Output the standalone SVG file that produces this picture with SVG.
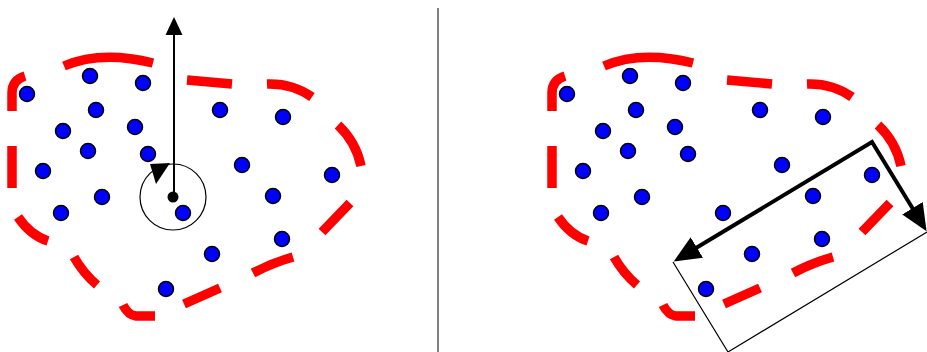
<svg xmlns="http://www.w3.org/2000/svg" width="927" height="352" viewBox="0 0 927 352">
<style>
.pt{fill:#0000ff;stroke:#000;stroke-width:1.5}
.hull{fill:none;stroke:#ff0000;stroke-width:9.5;stroke-linecap:butt}
.thin{fill:none;stroke:#000;stroke-width:1.2}
.thick{fill:none;stroke:#000;stroke-width:4;stroke-linejoin:miter}
.axis{fill:none;stroke:#000;stroke-width:2}
.sep{stroke:#555;stroke-width:1.5}
</style>
<defs>
<marker id="bigHead" markerUnits="userSpaceOnUse" markerWidth="30" markerHeight="26" viewBox="0 -13 30 26" refX="1" refY="0" orient="auto-start-reverse">
<path d="M0,-12 L27,0 L0,12 z" fill="#000"/>
</marker>
<marker id="smallHead" markerUnits="userSpaceOnUse" markerWidth="20" markerHeight="20" viewBox="0 -10 20 20" refX="1" refY="0" orient="auto">
<path d="M0,-8.5 L18,0 L0,8.5 z" fill="#000"/>
</marker>
</defs>

<g id="separator"><line class="sep" x1="438" y1="8" x2="438" y2="352"/></g>

<g id="left-panel">
<g id="left-hull">
<path class="hull" d="M12,111 L12,93 Q12,80 25,76 M12,146 L12,188 M64,66 Q101,50 153,63 M187,80 L232,84 M267,84 Q292,83 312,97 M338,125 Q356,142 361,166 M350,203 L322,232 M253,273 Q272,263 293,257 M184,304 L220,288 M123,305 Q128,315 136,316 L155,316 M74,257 Q83,273 97,285 M18,217 Q30,235 48,241"/>
</g>
<g id="left-points">
<circle class="pt" cx="27" cy="94" r="7.5"/>
<circle class="pt" cx="90" cy="76" r="7.5"/>
<circle class="pt" cx="143" cy="83" r="7.5"/>
<circle class="pt" cx="96" cy="110" r="7.5"/>
<circle class="pt" cx="63" cy="131" r="7.5"/>
<circle class="pt" cx="135" cy="127" r="7.5"/>
<circle class="pt" cx="88" cy="151" r="7.5"/>
<circle class="pt" cx="148" cy="154" r="7.5"/>
<circle class="pt" cx="43" cy="171" r="7.5"/>
<circle class="pt" cx="102" cy="197" r="7.5"/>
<circle class="pt" cx="61" cy="213" r="7.5"/>
<circle class="pt" cx="183" cy="213" r="7.5"/>
<circle class="pt" cx="220" cy="110" r="7.5"/>
<circle class="pt" cx="283" cy="117" r="7.5"/>
<circle class="pt" cx="242" cy="165" r="7.5"/>
<circle class="pt" cx="332" cy="175" r="7.5"/>
<circle class="pt" cx="273" cy="196" r="7.5"/>
<circle class="pt" cx="282" cy="239" r="7.5"/>
<circle class="pt" cx="212" cy="254" r="7.5"/>
<circle class="pt" cx="166" cy="289" r="7.5"/>
</g>
<g id="rotation">
<circle class="thin" cx="173" cy="197" r="33"/>
<polygon points="150,164 170,163 156,184" fill="#000"/>
<line class="axis" x1="174" y1="197" x2="174" y2="34" marker-end="url(#smallHead)"/>
<circle cx="173" cy="197" r="5.5" fill="#000"/>
</g>
</g>

<g id="right-panel">
<g id="right-hull" transform="translate(540,0)">
<path class="hull" d="M12,111 L12,93 Q12,80 25,76 M12,146 L12,188 M64,66 Q101,50 153,63 M187,80 L232,84 M267,84 Q292,83 312,97 M338,125 Q356,142 361,166 M350,203 L322,232 M253,273 Q272,263 293,257 M184,304 L220,288 M123,305 Q128,315 136,316 L155,316 M74,257 Q83,273 97,285 M18,217 Q30,235 48,241"/>
</g>
<g id="right-points" transform="translate(540,0)">
<circle class="pt" cx="27" cy="94" r="7.5"/>
<circle class="pt" cx="90" cy="76" r="7.5"/>
<circle class="pt" cx="143" cy="83" r="7.5"/>
<circle class="pt" cx="96" cy="110" r="7.5"/>
<circle class="pt" cx="63" cy="131" r="7.5"/>
<circle class="pt" cx="135" cy="127" r="7.5"/>
<circle class="pt" cx="88" cy="151" r="7.5"/>
<circle class="pt" cx="148" cy="154" r="7.5"/>
<circle class="pt" cx="43" cy="171" r="7.5"/>
<circle class="pt" cx="102" cy="197" r="7.5"/>
<circle class="pt" cx="61" cy="213" r="7.5"/>
<circle class="pt" cx="183" cy="213" r="7.5"/>
<circle class="pt" cx="220" cy="110" r="7.5"/>
<circle class="pt" cx="283" cy="117" r="7.5"/>
<circle class="pt" cx="242" cy="165" r="7.5"/>
<circle class="pt" cx="332" cy="175" r="7.5"/>
<circle class="pt" cx="273" cy="196" r="7.5"/>
<circle class="pt" cx="282" cy="239" r="7.5"/>
<circle class="pt" cx="212" cy="254" r="7.5"/>
<circle class="pt" cx="166" cy="289" r="7.5"/>
</g>
<g id="bounding-box">
<path class="thin" d="M673,262 L728,352 L927,232"/>
<path class="thick" d="M696,248 L872,142 L913,209" marker-start="url(#bigHead)" marker-end="url(#bigHead)"/>
</g>
</g>
</svg>
